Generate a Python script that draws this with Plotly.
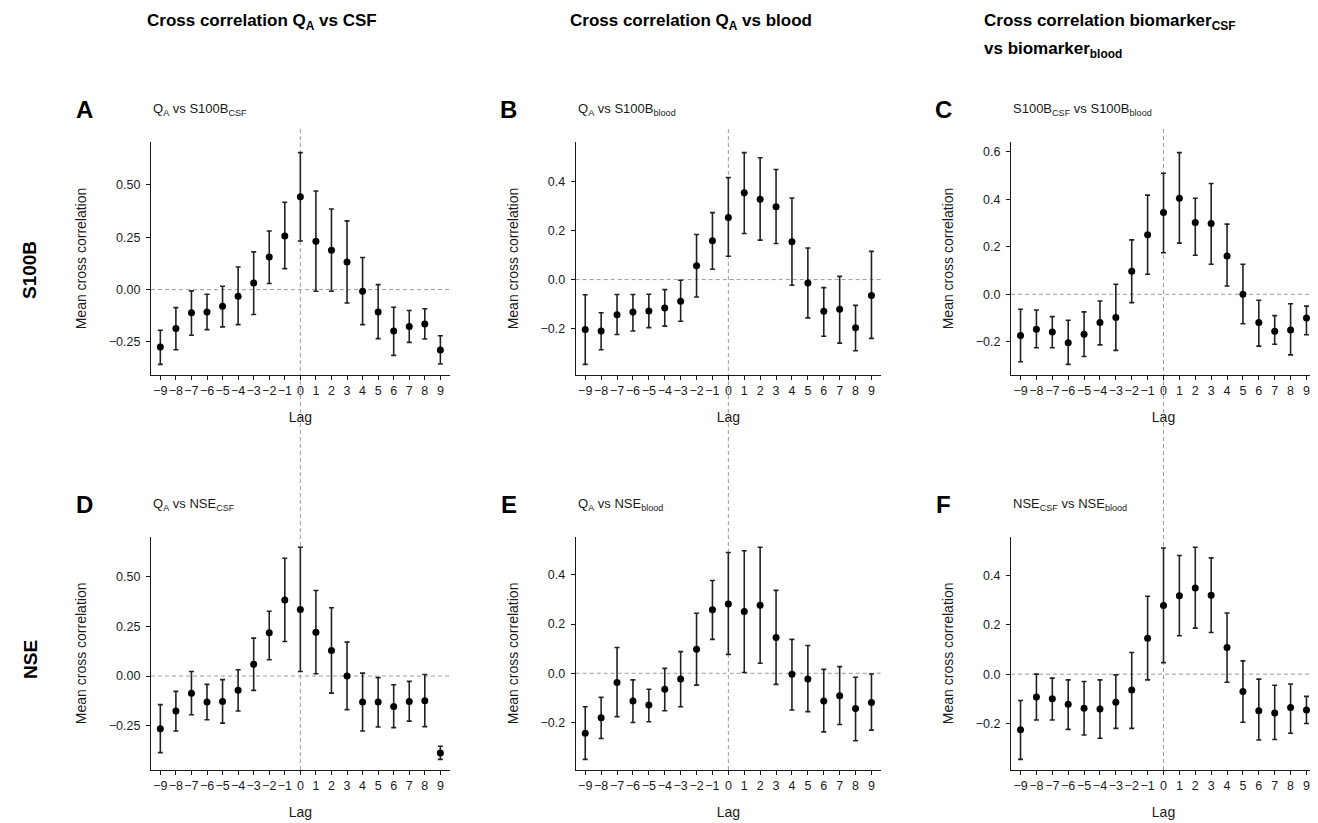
import plotly.graph_objects as go

# page body has an 8px margin; the figure is sized so it fills the window
OFF = 8
W, H = 1318 - OFF, 823 - OFF

lags = list(range(-9, 10))

A_mean = [-0.274, -0.186, -0.111, -0.107, -0.080, -0.032, 0.032, 0.156, 0.256, 0.443, 0.231, 0.188, 0.132, -0.008, -0.107, -0.197, -0.176, -0.164, -0.288]
A_low = [-0.357, -0.287, -0.218, -0.191, -0.178, -0.167, -0.119, 0.029, 0.100, 0.232, -0.008, -0.008, -0.064, -0.167, -0.234, -0.314, -0.252, -0.236, -0.355]
A_high = [-0.194, -0.086, -0.006, -0.022, 0.016, 0.108, 0.180, 0.280, 0.417, 0.654, 0.471, 0.385, 0.328, 0.153, 0.024, -0.084, -0.100, -0.091, -0.220]

B_mean = [-0.204, -0.210, -0.143, -0.132, -0.128, -0.116, -0.088, 0.056, 0.158, 0.253, 0.354, 0.328, 0.297, 0.154, -0.014, -0.129, -0.121, -0.196, -0.065]
B_low = [-0.346, -0.286, -0.224, -0.210, -0.196, -0.190, -0.170, -0.071, 0.042, 0.095, 0.188, 0.161, 0.147, -0.023, -0.156, -0.231, -0.259, -0.290, -0.240]
B_high = [-0.062, -0.135, -0.061, -0.061, -0.060, -0.041, -0.003, 0.184, 0.273, 0.416, 0.518, 0.497, 0.449, 0.333, 0.129, -0.033, 0.013, -0.105, 0.115]

C_mean = [-0.173, -0.147, -0.159, -0.204, -0.168, -0.119, -0.098, 0.097, 0.250, 0.344, 0.404, 0.302, 0.298, 0.161, 0.000, -0.119, -0.155, -0.150, -0.100]
C_low = [-0.284, -0.225, -0.225, -0.295, -0.262, -0.213, -0.236, -0.035, 0.084, 0.175, 0.215, 0.164, 0.126, 0.035, -0.124, -0.218, -0.210, -0.255, -0.170]
C_high = [-0.063, -0.066, -0.094, -0.109, -0.074, -0.028, 0.042, 0.229, 0.417, 0.509, 0.596, 0.404, 0.466, 0.295, 0.126, -0.025, -0.090, -0.040, -0.050]

D_mean = [-0.265, -0.176, -0.086, -0.131, -0.128, -0.072, 0.059, 0.218, 0.384, 0.336, 0.221, 0.129, 0.000, -0.131, -0.131, -0.153, -0.128, -0.125, -0.388]
D_low = [-0.386, -0.277, -0.195, -0.220, -0.237, -0.176, -0.072, 0.082, 0.174, 0.023, 0.012, -0.086, -0.169, -0.277, -0.257, -0.260, -0.227, -0.255, -0.420]
D_high = [-0.144, -0.077, 0.023, -0.042, -0.018, 0.032, 0.191, 0.327, 0.594, 0.649, 0.431, 0.344, 0.171, 0.015, -0.008, -0.044, -0.027, 0.008, -0.354]

E_mean = [-0.244, -0.181, -0.037, -0.113, -0.129, -0.065, -0.023, 0.098, 0.258, 0.282, 0.251, 0.276, 0.145, -0.004, -0.023, -0.113, -0.091, -0.143, -0.119]
E_low = [-0.350, -0.265, -0.176, -0.200, -0.197, -0.152, -0.136, -0.048, 0.138, 0.077, 0.003, 0.041, -0.045, -0.149, -0.156, -0.238, -0.208, -0.274, -0.231]
E_high = [-0.136, -0.098, 0.105, -0.027, -0.065, 0.020, 0.088, 0.244, 0.377, 0.491, 0.498, 0.512, 0.337, 0.138, 0.113, 0.016, 0.027, -0.016, -0.003]

F_mean = [-0.226, -0.093, -0.100, -0.122, -0.138, -0.141, -0.114, -0.064, 0.146, 0.279, 0.318, 0.350, 0.320, 0.108, -0.070, -0.149, -0.158, -0.135, -0.145]
F_low = [-0.346, -0.186, -0.186, -0.224, -0.247, -0.260, -0.220, -0.220, -0.023, 0.047, 0.156, 0.187, 0.169, -0.033, -0.195, -0.267, -0.265, -0.240, -0.200]
F_high = [-0.107, 0.000, -0.016, -0.023, -0.030, -0.023, -0.003, 0.088, 0.316, 0.512, 0.482, 0.515, 0.472, 0.248, 0.054, -0.020, -0.045, -0.040, -0.090]

panel_letters = ["A", "B", "C", "D", "E", "F"]
panel_titles = [
    "Q<sub>A</sub> vs S100B<sub>CSF</sub>",
    "Q<sub>A</sub> vs S100B<sub>blood</sub>",
    "S100B<sub>CSF</sub> vs S100B<sub>blood</sub>",
    "Q<sub>A</sub> vs NSE<sub>CSF</sub>",
    "Q<sub>A</sub> vs NSE<sub>blood</sub>",
    "NSE<sub>CSF</sub> vs NSE<sub>blood</sub>",
]
column_titles = [
    "Cross correlation Q<sub>A</sub> vs CSF",
    "Cross correlation Q<sub>A</sub> vs blood",
    "Cross correlation biomarker<sub>CSF</sub>",
]
column_title_line2 = "vs biomarker<sub>blood</sub>"
row_labels = ["S100B", "NSE"]

panels = [
    (A_mean, A_low, A_high, 0.25, ".2f"),
    (B_mean, B_low, B_high, 0.2, ".1f"),
    (C_mean, C_low, C_high, 0.2, ".1f"),
    (D_mean, D_low, D_high, 0.25, ".2f"),
    (E_mean, E_low, E_high, 0.2, ".1f"),
    (F_mean, F_low, F_high, 0.2, ".1f"),
]

FONT = "Liberation Sans, Arial, Helvetica, sans-serif"
INK = "#1a1a1a"

# positions in screen pixels
col_px = [(151, 449.7), (575.7, 881), (1011, 1316)]
row_px = [(142, 375), (536.7, 770)]


def px(x):
    return (x - OFF) / W


def py(y):
    return 1 - (y - OFF) / H


fig = go.Figure()
layout = dict(
    width=W, height=H,
    margin=dict(l=0, r=0, t=0, b=0, autoexpand=False),
    paper_bgcolor="white", plot_bgcolor="white",
    showlegend=False,
    font=dict(family=FONT, color=INK, size=12),
)
annotations = []
shapes = []

for i, (mean, low, high, dtick, fmt) in enumerate(panels):
    r, c = divmod(i, 3)
    n = i + 1
    xa = "x" if n == 1 else f"x{n}"
    ya = "y" if n == 1 else f"y{n}"
    plus = [h - m for h, m in zip(high, mean)]
    minus = [m - l for m, l in zip(mean, low)]
    fig.add_trace(go.Scatter(
        x=lags, y=mean, mode="markers", xaxis=xa, yaxis=ya,
        marker=dict(color="black", size=7),
        error_y=dict(type="data", array=plus, arrayminus=minus, symmetric=False,
                     color="#222222", thickness=1.6, width=2.5),
        hoverinfo="x+y",
    ))
    lo, hi = min(low), max(high)
    pad = 0.05 * (hi - lo)
    x0, x1 = col_px[c]
    y0, y1 = row_px[r]
    key_x = "xaxis" if n == 1 else f"xaxis{n}"
    key_y = "yaxis" if n == 1 else f"yaxis{n}"
    layout[key_x] = dict(
        domain=[px(x0), px(x1)], anchor=ya, range=[-9.6, 9.6], automargin=False,
        tickmode="array", tickvals=lags, ticks="outside", ticklen=4, tickangle=0,
        tickcolor=INK, tickwidth=1.2, showline=True, linecolor=INK, linewidth=1.2,
        showgrid=False, zeroline=False, tickfont=dict(size=12.5, color=INK),
        title=dict(text="Lag", font=dict(size=14, color=INK), standoff=15),
        fixedrange=True,
    )
    layout[key_y] = dict(
        domain=[py(y1), py(y0)], anchor=xa, range=[lo - pad, hi + pad], automargin=False,
        tickmode="linear", tick0=0, dtick=dtick, tickformat=fmt,
        ticks="outside", ticklen=4, tickcolor=INK, tickwidth=1.2,
        showline=True, linecolor=INK, linewidth=1.2, showgrid=False, zeroline=False,
        tickfont=dict(size=12.5, color=INK), ticklabelstandoff=3,
        title=dict(text="Mean cross correlation", font=dict(size=14, color=INK), standoff=18),
        fixedrange=True,
    )
    # horizontal dashed line at zero
    shapes.append(dict(type="line", xref=f"{xa} domain", yref=ya, x0=0, x1=1, y0=0, y1=0,
                       line=dict(color="#9a9a9a", width=1, dash="4px,3px"), layer="below"))
    # panel letter
    annotations.append(dict(text=f"<b>{panel_letters[i]}</b>", xref="paper", yref="paper",
                            x=px(x0 - 67), y=py(y0 - 32), xanchor="center", yanchor="middle",
                            showarrow=False, font=dict(size=24, color="black", family=FONT)))
    # panel subtitle
    annotations.append(dict(text=panel_titles[i], xref="paper", yref="paper",
                            x=px(x0), y=py(y0 - 32), xanchor="left", yanchor="middle",
                            showarrow=False, font=dict(size=13, color=INK, family=FONT)))

# vertical dashed line at lag 0 spanning both rows of each column
for c in range(3):
    xa = "x" if c == 0 else f"x{c + 1}"
    shapes.append(dict(type="line", xref=xa, yref="paper", x0=0, x1=0,
                       y0=py(770), y1=py(128),
                       line=dict(color="#9a9a9a", width=1, dash="4px,3px"), layer="below"))

# column titles
title_x = [145, 568, 982]
for c in range(3):
    annotations.append(dict(text=f"<b>{column_titles[c]}</b>", xref="paper", yref="paper",
                            x=px(title_x[c]), y=py(22), xanchor="left", yanchor="middle",
                            showarrow=False, font=dict(size=17, color="black", family=FONT)))
annotations.append(dict(text=f"<b>{column_title_line2}</b>", xref="paper", yref="paper",
                        x=px(title_x[2]), y=py(50), xanchor="left", yanchor="middle",
                        showarrow=False, font=dict(size=17, color="black", family=FONT)))

# row labels
row_y = [270, 660]
for r in range(2):
    annotations.append(dict(text=f"<b>{row_labels[r]}</b>", xref="paper", yref="paper",
                            x=px(30), y=py(row_y[r]), xanchor="center", yanchor="middle",
                            textangle=-90, showarrow=False,
                            font=dict(size=19, color="black", family=FONT)))

layout["annotations"] = annotations
layout["shapes"] = shapes
fig.update_layout(**layout)
fig.write_html("out.html")
